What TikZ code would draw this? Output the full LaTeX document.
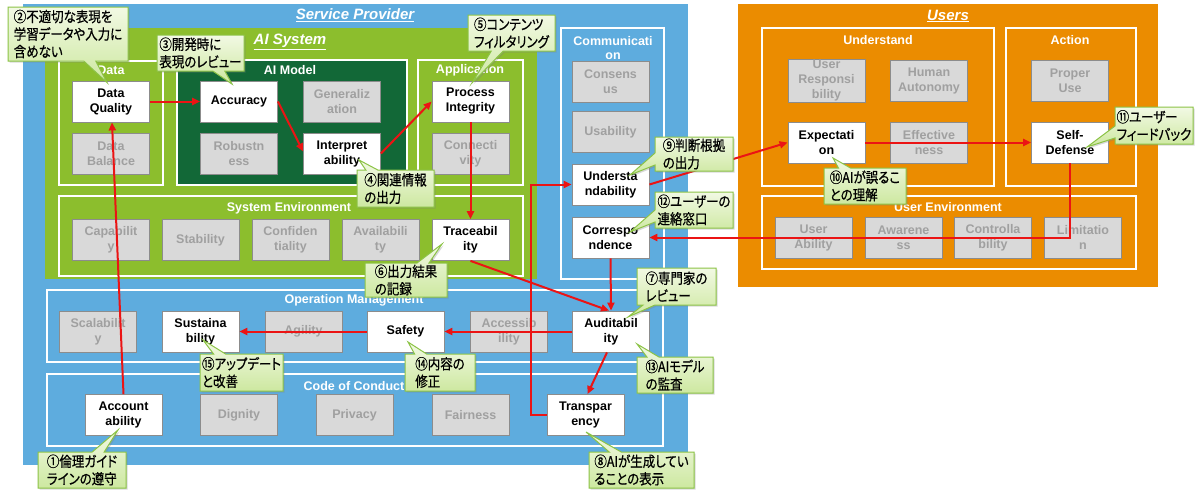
\documentclass[tikz,border=0pt]{standalone}
\usepackage{fontspec}
\setmainfont{Liberation Sans}
\newfontfamily\jp[FakeStretch=0.86,FakeBold=0.6,RawFeature=+palt]{Noto Sans CJK JP}
\usetikzlibrary{arrows.meta,shapes.callouts,shadows}
\definecolor{spblue}{RGB}{94,172,222}
\definecolor{aigreen}{RGB}{140,190,45}
\definecolor{modelgreen}{RGB}{18,104,55}
\definecolor{usrorange}{RGB}{235,140,0}
\definecolor{inafill}{RGB}{217,217,217}
\definecolor{inatext}{RGB}{160,160,160}
\definecolor{boxborder}{RGB}{140,140,140}
\definecolor{arrred}{RGB}{235,20,20}
\definecolor{coborder}{RGB}{140,195,70}
\definecolor{cotop}{RGB}{242,249,228}
\definecolor{cobot}{RGB}{205,232,160}
\begin{document}
\begin{tikzpicture}[x=1pt,y=-1pt,
  act/.style={draw=boxborder, line width=0.8pt, fill=white, minimum width=77pt, minimum height=41pt, inner sep=1pt, align=center, font=\bfseries\fontsize{12.5}{15}\selectfont, text=black},
  ina/.style={act, fill=inafill, text=inatext},
  cont/.style={draw=white, line width=2.5pt},
  ttl/.style={text=white, inner sep=0pt, align=center, font=\bfseries\fontsize{12.5}{14.5}\selectfont},
  bigttl/.style={text=white, inner sep=0pt, font=\bfseries\itshape\fontsize{15}{17}\selectfont},
  arr/.style={draw=arrred, line width=2pt, -{Triangle[length=8pt,width=7pt]}},
  co/.style={shape=rectangle callout, draw=coborder, line width=1pt, top color=cotop, bottom color=cobot, font=\jp\fontsize{14.5}{17.5}\selectfont, align=left, inner sep=1.5pt, callout pointer width=12pt, drop shadow={shadow xshift=1.5pt, shadow yshift=-1.5pt, opacity=0.3}}
]
\useasboundingbox (0,0) rectangle (1200,501);
\fill[white] (0,0) rectangle (1200,501);

% ---------- Service Provider ----------
\fill[spblue] (23,4) rectangle (688,465);
\node[bigttl] (tsp) at (355,15) {\underline{Service Provider}};
\fill[aigreen] (45,28) rectangle (537,279);
\node[bigttl] (tai) at (290,42) {\underline{AI System}};
\path[cont, fill=aigreen] (59,61) rectangle (163,185);
\node[ttl] (tdata) at (111,70) {Data};
\path[cont, fill=modelgreen] (177,60) rectangle (407,185);
\node[ttl] (tmodel) at (290,70) {AI Model};
\path[cont, fill=aigreen] (418,60) rectangle (523,185);
\node[ttl] (tapp) at (470,70) {Application};
\path[cont, fill=aigreen] (59,196) rectangle (523,276);
\node[ttl] (tsenv) at (289,208) {System Environment};
\path[cont, fill=spblue] (561,28) rectangle (664,279);
\node[ttl] (tcom) at (613,48) {Communicati\\on};
\path[cont, fill=spblue] (47,290) rectangle (663,362);
\node[ttl] (tops) at (354,300) {Operation Management};
\path[cont, fill=spblue] (47,374) rectangle (663,446);
\node[ttl] (tcode) at (354,386) {Code of Conduct};

% ---------- Users ----------
\fill[usrorange] (738,4) rectangle (1158,287);
\node[bigttl] (tusr) at (948,16) {\underline{Users}};
\path[cont, fill=usrorange] (762,28) rectangle (994,186);
\node[ttl] (tund) at (878,40) {Understand};
\path[cont, fill=usrorange] (1006,28) rectangle (1136,186);
\node[ttl] (tact) at (1070,40) {Action};
\path[cont, fill=usrorange] (762,196) rectangle (1136,269);
\node[ttl] (tuenv) at (948,207) {User Environment};

% ---------- boxes ----------
\node[act] (dq) at (111,101.5) {Data\\Quality};
\node[ina] (db) at (111,153.5) {Data\\Balance};
\node[act] (acc) at (239,101.5) {Accuracy};
\node[ina] (rob) at (239,153.5) {Robustn\\ess};
\node[ina] (gen) at (342,101.5) {Generaliz\\ation};
\node[act] (interp) at (342,153.5) {Interpret\\ability};
\node[act] (pi) at (470.5,101.5) {Process\\Integrity};
\node[ina] (conn) at (470.5,153.5) {Connecti\\vity};
\node[ina] (cap) at (111,240) {Capabilit\\y};
\node[ina] (stab) at (200.5,240) {Stability};
\node[ina] (conf) at (290.5,240) {Confiden\\tiality};
\node[ina] (avail) at (380.5,240) {Availabili\\ty};
\node[act] (trace) at (470.5,240) {Traceabil\\ity};
\node[ina] (cons) at (610.5,82) {Consens\\us};
\node[ina] (usab) at (610.5,132) {Usability};
\node[act] (und) at (610.5,184.5) {Understa\\ndability};
\node[act] (corr) at (610.5,237.5) {Correspo\\ndence};
\node[ina] (scal) at (98,331.5) {Scalabilit\\y};
\node[act] (sust) at (200.5,331.5) {Sustaina\\bility};
\node[ina] (agil) at (303.5,331.5) {Agility};
\node[act] (safe) at (405.5,331.5) {Safety};
\node[ina] (accs) at (509,331.5) {Accessib\\ility};
\node[act] (aud) at (611,331.5) {Auditabil\\ity};
\node[act] (acct) at (123.5,415) {Account\\ability};
\node[ina] (dig) at (239,415) {Dignity};
\node[ina] (priv) at (354.5,415) {Privacy};
\node[ina] (fair) at (470.5,415) {Fairness};
\node[act] (trans) at (585.5,415) {Transpar\\ency};
\node[ina] (uresp) at (826.5,80.5) {User\\Responsi\\bility};
\node[ina] (haut) at (929,80.5) {Human\\Autonomy};
\node[ina] (puse) at (1070,80.5) {Proper\\Use};
\node[act] (expc) at (826.5,142.5) {Expectati\\on};
\node[ina] (eff) at (929,142.5) {Effective\\ness};
\node[act] (sd) at (1070,142.5) {Self-\\Defense};
\node[ina] (uab) at (813.5,237.5) {User\\Ability};
\node[ina] (awa) at (903.5,237.5) {Awarene\\ss};
\node[ina] (ctrl) at (993,237.5) {Controlla\\bility};
\node[ina] (lim) at (1083,237.5) {Limitatio\\n};

% ---------- connectors ----------
\draw[arr] (acct.north) -- ([xshift=1pt]dq.south);
\draw[arr] (dq.east) -- (acc.west);
\draw[arr] (acc.east) -- ([yshift=2pt]interp.west);
\draw[arr] (interp.east) -- (pi.west);
\draw[arr] (pi.south) -- (trace.north);
\draw[arr] (trace.south) -- ([xshift=-2pt]aud.north);
\draw[arr] (corr.south) -- (aud.north);
\draw[arr] ([xshift=-4pt]aud.south) -- ([xshift=2pt]trans.north);
\draw[arr] (aud.west) -- (safe.east);
\draw[arr] (safe.west) -- (sust.east);
\draw[arr] (trans.west) -- ++(-16,0) |- (und.west);
\draw[arr] (und.east) -- (expc.west);
\draw[arr] (expc.east) -- (sd.west);
\draw[arr] (sd.south) |- (corr.east);

% ---------- callouts ----------
\coordinate (t1) at ([shift={(-5.5,15)}]acct.center);
\coordinate (t2) at ([shift={(-4,-19)}]dq.center);
\coordinate (t3) at ([shift={(-7,-17.5)}]acc.center);
\coordinate (t4) at ([shift={(17,6.5)}]interp.center);
\coordinate (t5) at ([shift={(1.5,-18.5)}]pi.center);
\coordinate (t6) at ([shift={(-28.5,4)}]trace.center);
\coordinate (t7) at ([shift={(17,-14.5)}]aud.center);
\coordinate (t8) at ([shift={(0.5,17)}]trans.center);
\coordinate (t9) at ([shift={(19.5,-9.5)}]und.center);
\coordinate (t10) at ([shift={(6.5,15.5)}]expc.center);
\coordinate (t11) at ([shift={(17,4.5)}]sd.center);
\coordinate (t12) at ([shift={(19.5,-5.5)}]corr.center);
\coordinate (t13) at ([shift={(26,12.5)}]aud.center);
\coordinate (t14) at ([shift={(2.5,10.5)}]safe.center);
\coordinate (t15) at ([shift={(2.5,8.5)}]sust.center);

\node[co, minimum width=120pt, minimum height=54pt, callout absolute pointer={(t2)}] (c2) at (68,34) {②不適切な表現を\\学習データや入力に\\含めない};
\node[co, minimum width=87pt, minimum height=36pt, callout absolute pointer={(t3)}] (c3) at (200.5,53) {③開発時に\\表現のレビュー};
\node[co, minimum width=87pt, minimum height=36pt, callout absolute pointer={(t5)}] (c5) at (511.5,33) {⑤コンテンツ\\フィルタリング};
\node[co, minimum width=77pt, minimum height=37pt, callout absolute pointer={(t4)}] (c4) at (395.5,188.5) {④関連情報\\の出力};
\node[co, minimum width=82pt, minimum height=34pt, callout absolute pointer={(t6)}] (c6) at (406,280) {⑥出力結果\\の記録};
\node[co, minimum width=79pt, minimum height=37pt, callout absolute pointer={(t7)}] (c7) at (676.5,286.5) {⑦専門家の\\レビュー};
\node[co, minimum width=105pt, minimum height=36pt, callout absolute pointer={(t8)}] (c8) at (641.5,470) {⑧AIが生成してい\\ることの表示};
\node[co, minimum width=78pt, minimum height=34pt, callout absolute pointer={(t9)}] (c9) at (694,154) {⑨判断根拠\\の出力};
\node[co, minimum width=78pt, minimum height=36pt, callout absolute pointer={(t12)}] (c12) at (694,210) {⑫ユーザーの\\連絡窓口};
\node[co, minimum width=82pt, minimum height=36pt, callout absolute pointer={(t10)}] (c10) at (865,186) {⑩AIが誤るこ\\との理解};
\node[co, minimum width=78pt, minimum height=37pt, callout absolute pointer={(t11)}] (c11) at (1154,125.5) {⑪ユーザー\\フィードバック};
\node[co, minimum width=76pt, minimum height=36pt, callout absolute pointer={(t13)}] (c13) at (675,375) {⑬AIモデル\\の監査};
\node[co, minimum width=70pt, minimum height=37pt, callout absolute pointer={(t14)}] (c14) at (440,372.5) {⑭内容の\\修正};
\node[co, minimum width=83pt, minimum height=37pt, callout absolute pointer={(t15)}] (c15) at (241.5,372.5) {⑮アップデート\\と改善};
\node[co, minimum width=88pt, minimum height=36pt, callout absolute pointer={(t1)}] (c1) at (82,470) {①倫理ガイド\\ラインの遵守};
\end{tikzpicture}
\end{document}
